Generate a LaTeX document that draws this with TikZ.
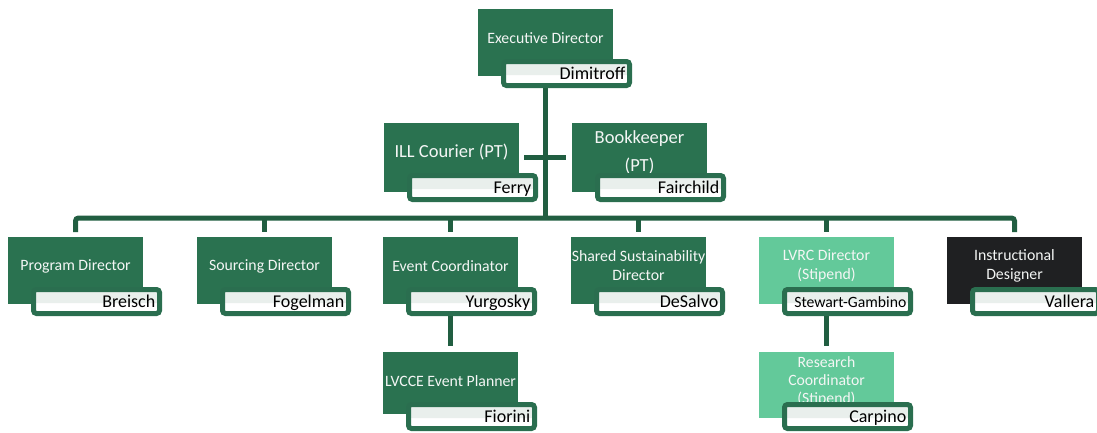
\documentclass[tikz,border=0pt]{standalone}
\usepackage{fontspec}
\setmainfont{Carlito}
\usetikzlibrary{calc,backgrounds}

\definecolor{orgdark}{HTML}{2A7250}
\definecolor{orglight}{HTML}{63C99A}
\definecolor{orgblack}{HTML}{1F2022}
\definecolor{nameborder}{HTML}{2A6E4F}
\definecolor{namegray}{HTML}{E9EFEC}
\definecolor{linkgreen}{HTML}{215E41}
\definecolor{titlewhite}{HTML}{F4F6F5}

\tikzset{
  mainbox/.style={draw=none, minimum width=135pt, inner sep=0pt, outer sep=0pt, anchor=north west},
  namebox/.style={draw=nameborder, line width=5pt, rounded corners=3pt, fill=white,
    minimum width=126pt, minimum height=24pt, inner sep=0pt, outer sep=0pt, anchor=north west,
    path picture={\fill[namegray] (path picture bounding box.north west)
      rectangle ($(path picture bounding box.east)+(0pt,-1.5pt)$);}},
  titletext/.style={text=titlewhite, align=center, font=\fontsize{15.8}{19}\selectfont, inner sep=0pt},
  bigtitle/.style={font=\fontsize{18.5}{28}\selectfont},
  nametext/.style={text=black, font=\fontsize{18}{20}\selectfont, inner sep=0pt, anchor=base east},
  conn/.style={draw=linkgreen, line width=5pt},
}

% one position: id, x, y, height, fill, title, person, extra title style
\newcommand{\orgunit}[8]{%
  \node[mainbox, fill=#5, minimum height=#4pt] (#1) at (#2,#3) {};
  \node[titletext, #8] (#1-title) at ($(#1.north)+(0,29)$) {#6};
  \node[namebox] (#1-box) at ($(#1.north west)+(25.5,52.5)$) {};
  \node[nametext] (#1-name) at ($(#1-box.east)+(-4pt,-5.5pt)$) {#7};
}

\begin{document}
\begin{tikzpicture}[x=1pt, y=-1pt]
\useasboundingbox (0,0) rectangle (1097,432);

\orgunit{exec}{478}{9}{67}{orgdark}{Executive Director}{Dimitroff}{}
\orgunit{ill}{384}{123}{69}{orgdark}{ILL Courier (PT)}{Ferry}{bigtitle}
\orgunit{book}{572}{123}{69}{orgdark}{Bookkeeper\\(PT)}{Fairchild}{bigtitle}

\orgunit{prog}{8}{237}{67}{orgdark}{Program Director}{Breisch}{}
\orgunit{src}{197}{237}{67}{orgdark}{Sourcing Director}{Fogelman}{}
\orgunit{evt}{383}{237}{67}{orgdark}{Event Coordinator}{Yurgosky}{}
\orgunit{sus}{571}{237}{67}{orgdark}{Shared Sustainability\\Director}{DeSalvo}{}
\orgunit{lvrc}{759}{237}{67}{orglight}{LVRC Director\\(Stipend)}{{\fontsize{15.7}{18}\selectfont Stewart-Gambino}}{}
\orgunit{inst}{947}{237}{67}{orgblack}{Instructional\\Designer}{Vallera}{}

\orgunit{plan}{383}{352}{62}{orgdark}{LVCCE Event Planner}{Fiorini}{}
\orgunit{res}{759}{352}{66}{orglight}{Research\\Coordinator\\(Stipend)}{Carpino}{font=\fontsize{15.7}{18}\selectfont}

\begin{pgfonlayer}{background}
  \coordinate (bus) at (545.5,218);
  \draw[conn] (exec.south) -- (bus);
  \draw[conn, line width=4.5pt, shorten <=5pt, shorten >=6pt] (ill.east) -- (book.west);
  \draw[conn, rounded corners=3pt, shorten <=5pt, shorten >=5pt] (prog.north) |- (bus) -| (inst.north);
  \foreach \u in {src,evt,sus,lvrc}
    \draw[conn, shorten >=5pt] (bus -| \u.north) -- (\u.north);
  \draw[conn, shorten >=6pt] (evt.south) -- (plan.north);
  \draw[conn, shorten >=6pt] (lvrc.south) -- (res.north);
\end{pgfonlayer}
\end{tikzpicture}
\end{document}
